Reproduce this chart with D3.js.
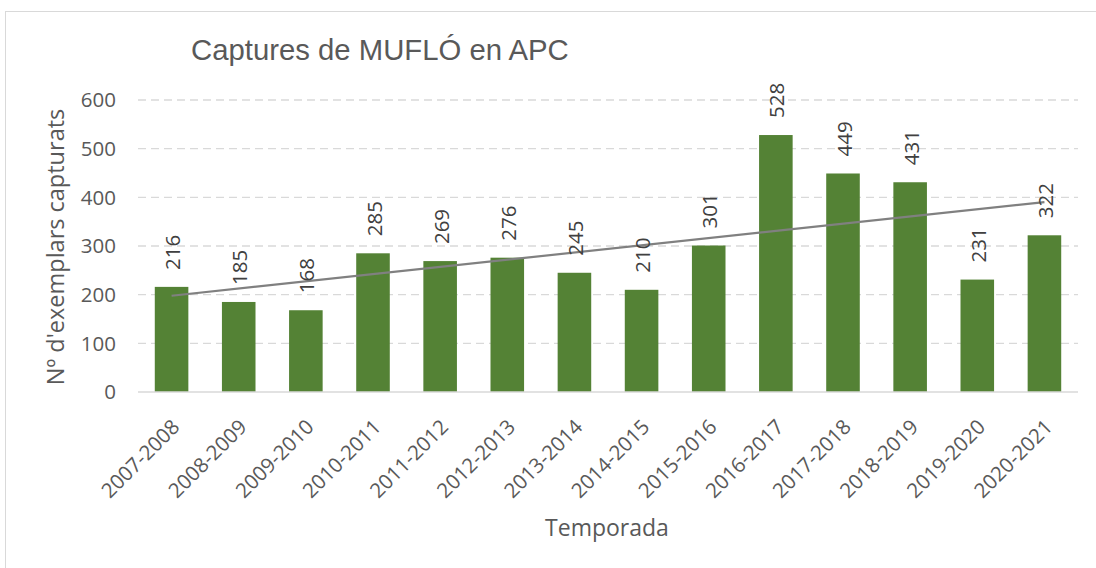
<!DOCTYPE html>
<html>
<head>
<meta charset="utf-8">
<script src="https://cdn.jsdelivr.net/npm/d3@7"></script>
<style>
  body { margin: 0; background: #fff; }
  text { font-family: "Open Sans", "Noto Sans", sans-serif; fill: #595959; }
  .title { font-family: "Liberation Sans", Arial, sans-serif; }
</style>
</head>
<body>
<div id="chart"></div>
<script>
// data
var seasons = ["2007-2008", "2008-2009", "2009-2010", "2010-2011", "2011-2012", "2012-2013", "2013-2014",
               "2014-2015", "2015-2016", "2016-2017", "2017-2018", "2018-2019", "2019-2020", "2020-2021"];
var captures = [216, 185, 168, 285, 269, 276, 245, 210, 301, 528, 449, 431, 231, 322];
var yTicks = [0, 100, 200, 300, 400, 500, 600];

var W = 1096, H = 568;
var plot = {left: 138, right: 1078, top: 100, bottom: 392};

var svg = d3.select("#chart").append("svg")
    .attr("width", W)
    .attr("height", H);

// chart frame
svg.append("rect")
    .attr("x", 5.5).attr("y", 11.5)
    .attr("width", W).attr("height", H)
    .attr("fill", "#fff")
    .attr("stroke", "#d9d9d9");

var x = d3.scaleBand().domain(seasons).range([plot.left, plot.right])
    .paddingInner(0.5).paddingOuter(0.25);
var y = d3.scaleLinear().domain([0, 600]).range([plot.bottom, plot.top]);

// gridlines
svg.append("g").selectAll("line")
    .data(yTicks.filter(function(d) { return d > 0; }))
    .enter().append("line")
    .attr("x1", plot.left).attr("x2", plot.right)
    .attr("y1", function(d) { return y(d); })
    .attr("y2", function(d) { return y(d); })
    .attr("stroke", "#d9d9d9")
    .attr("stroke-width", 1.3)
    .attr("stroke-dasharray", "8,5");

// y axis labels
svg.append("g").selectAll("text")
    .data(yTicks)
    .enter().append("text")
    .attr("x", 116)
    .attr("y", function(d) { return y(d); })
    .attr("dy", "0.36em")
    .style("text-anchor", "end")
    .style("font-size", "20.5px")
    .text(function(d) { return d; });

// bars
svg.append("g").selectAll("rect")
    .data(captures)
    .enter().append("rect")
    .attr("x", function(d, i) { return x(seasons[i]); })
    .attr("y", function(d) { return y(d); })
    .attr("width", x.bandwidth())
    .attr("height", function(d) { return y(0) - y(d); })
    .attr("fill", "#548235");

// baseline
svg.append("line")
    .attr("x1", plot.left).attr("x2", plot.right)
    .attr("y1", y(0)).attr("y2", y(0))
    .attr("stroke", "#d9d9d9")
    .attr("stroke-width", 1.5);

// linear trend line (least squares over the bar values)
var n = captures.length;
var mx = (n - 1) / 2, my = d3.mean(captures);
var sxy = d3.sum(captures, function(d, i) { return (i - mx) * (d - my); });
var sxx = d3.sum(captures, function(d, i) { return (i - mx) * (i - mx); });
var slope = sxy / sxx, icpt = my - slope * mx;
var cx = function(i) { return x(seasons[i]) + x.bandwidth() / 2; };
svg.append("line")
    .attr("x1", cx(0)).attr("y1", y(icpt))
    .attr("x2", cx(n - 1)).attr("y2", y(icpt + slope * (n - 1)))
    .attr("stroke", "#808080")
    .attr("stroke-width", 2.2);

// data labels, rotated
svg.append("g").selectAll("text")
    .data(captures)
    .enter().append("text")
    .attr("transform", function(d, i) {
        return "translate(" + cx(i) + "," + (y(d) - 17) + ") rotate(-90)";
    })
    .attr("dy", "0.42em")
    .style("text-anchor", "start")
    .style("font-size", "20.5px")
    .style("fill", "#404040")
    .text(function(d) { return d; });

// x axis labels
svg.append("g").selectAll("text")
    .data(seasons)
    .enter().append("text")
    .attr("transform", function(d, i) {
        return "translate(" + (cx(i) - 1) + "," + 418 + ") rotate(-45)";
    })
    .attr("dy", "0.71em")
    .style("text-anchor", "end")
    .style("font-size", "20.5px")
    .text(function(d) { return d; });

// title
svg.append("text")
    .attr("class", "title")
    .attr("x", 191).attr("y", 60)
    .style("font-size", "29.3px")
    .text("Captures de MUFLÓ en APC");

// axis titles
svg.append("text")
    .attr("transform", "translate(64," + 247 + ") rotate(-90)")
    .style("text-anchor", "middle")
    .style("font-size", "23.5px")
    .text("Nº d'exemplars capturats");

svg.append("text")
    .attr("x", 607).attr("y", 536)
    .style("text-anchor", "middle")
    .style("font-size", "23px")
    .text("Temporada");
</script>
</body>
</html>
